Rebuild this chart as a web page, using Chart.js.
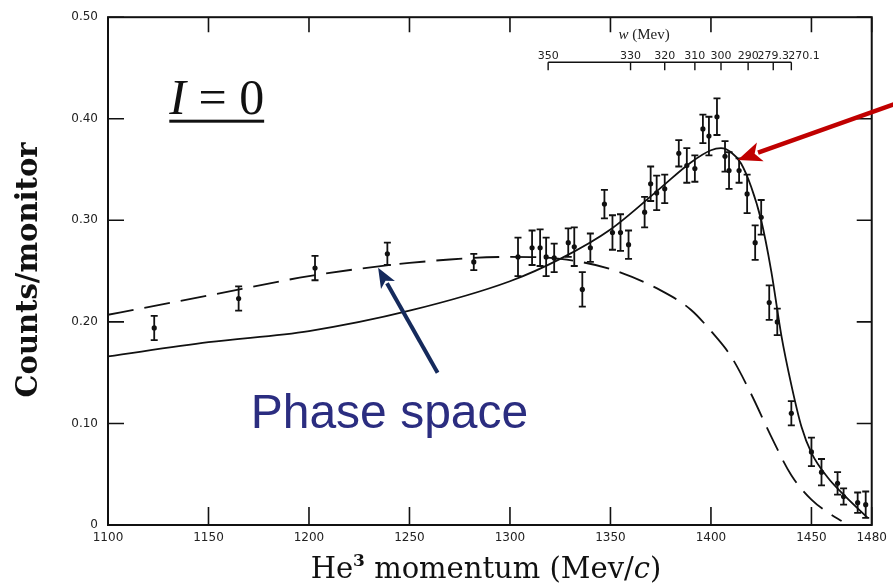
<!DOCTYPE html>
<html>
<head>
<meta charset="utf-8">
<script src="https://cdn.jsdelivr.net/npm/chart.js@4"></script>
<style>
  body { margin: 0; background: #fff; }
</style>
</head>
<body>
<canvas id="chart" width="893" height="587"></canvas>
<script>
// measured counts with error bars
const momentum = [1123, 1165, 1203, 1239, 1282, 1304, 1311, 1315, 1318, 1322, 1329, 1332, 1336, 1340,
  1347, 1351, 1355, 1359, 1367, 1370, 1373, 1377, 1384, 1388, 1392, 1396, 1399, 1403, 1407, 1409,
  1414, 1418, 1422, 1425, 1429, 1433, 1440, 1450, 1455, 1463, 1466, 1473, 1477];
const counts = [0.194, 0.223, 0.253, 0.267, 0.259, 0.264, 0.273, 0.273, 0.264, 0.263, 0.278, 0.274, 0.232, 0.273,
  0.316, 0.288, 0.288, 0.276, 0.308, 0.336, 0.327, 0.331, 0.366, 0.354, 0.351, 0.390, 0.383, 0.402, 0.363, 0.349,
  0.349, 0.326, 0.278, 0.303, 0.219, 0.200, 0.110, 0.072, 0.052, 0.041, 0.028, 0.022, 0.020];
const errors = [0.012, 0.012, 0.012, 0.011, 0.008, 0.019, 0.017, 0.018, 0.019, 0.014, 0.014, 0.019, 0.017, 0.014,
  0.014, 0.017, 0.018, 0.014, 0.015, 0.017, 0.017, 0.014, 0.013, 0.017, 0.013, 0.014, 0.019, 0.018, 0.015, 0.018,
  0.012, 0.019, 0.017, 0.017, 0.017, 0.013, 0.012, 0.014, 0.013, 0.011, 0.008, 0.010, 0.013];

// I = 0 fit (solid)
const fitMomentum = [1100, 1150, 1200, 1250, 1300, 1325, 1350, 1375, 1390, 1400, 1405, 1410, 1415, 1420,
  1425, 1430, 1435, 1440, 1445, 1450, 1458, 1467, 1478];
const fitCounts = [0.166, 0.180, 0.191, 0.211, 0.240, 0.262, 0.291, 0.332, 0.357, 0.369, 0.371, 0.367, 0.356, 0.333,
  0.300, 0.250, 0.187, 0.138, 0.097, 0.071, 0.047, 0.028, 0.007];

// phase space (dashed)
const phaseMomentum = [1100, 1150, 1200, 1250, 1300, 1325, 1350, 1375, 1390, 1400, 1410, 1420, 1430,
  1440, 1450, 1460, 1465];
const phaseCounts = [0.207, 0.226, 0.245, 0.258, 0.264, 0.262, 0.252, 0.231, 0.212, 0.191, 0.166, 0.129, 0.087,
  0.049, 0.025, 0.010, 0.004];

const xTicks = [1100, 1150, 1200, 1250, 1300, 1350, 1400, 1450, 1480];
const yTicks = [0, 0.1, 0.2, 0.3, 0.4, 0.5];
const yTickLabels = ['0', '0.10', '0.20', '0.30', '0.40', '0.50'];

// secondary w scale (Mev) along the top
const wMomentum = [1319, 1360, 1377, 1392, 1405, 1418.5, 1431, 1440];
const wLabels = ['350', '330', '320', '310', '300', '290', '279.3', '270.1'];

const toXY = (xs, ys) => xs.map((x, i) => ({ x: x, y: ys[i] }));

function arrow(ctx, x1, y1, x2, y2, color, width, headLen, headW) {
  const a = Math.atan2(y2 - y1, x2 - x1);
  const bx = x2 - Math.cos(a) * headLen * 0.9;
  const by = y2 - Math.sin(a) * headLen * 0.9;
  ctx.save();
  ctx.strokeStyle = color;
  ctx.fillStyle = color;
  ctx.lineWidth = width;
  ctx.beginPath();
  ctx.moveTo(x1, y1);
  ctx.lineTo(bx, by);
  ctx.stroke();
  ctx.beginPath();
  ctx.moveTo(x2, y2);
  ctx.lineTo(x2 - Math.cos(a) * headLen + Math.sin(a) * headW, y2 - Math.sin(a) * headLen - Math.cos(a) * headW);
  ctx.lineTo(x2 - Math.cos(a) * headLen * 0.75, y2 - Math.sin(a) * headLen * 0.75);
  ctx.lineTo(x2 - Math.cos(a) * headLen - Math.sin(a) * headW, y2 - Math.sin(a) * headLen + Math.cos(a) * headW);
  ctx.closePath();
  ctx.fill();
  ctx.restore();
}

const paperPlugin = {
  id: 'paper',
  afterDatasetsDraw(chart) {
    const ctx = chart.ctx;
    const x = chart.scales.x, y = chart.scales.y;
    ctx.save();
    ctx.strokeStyle = '#111';
    ctx.lineWidth = 1.8;
    momentum.forEach((m, i) => {
      const px = x.getPixelForValue(m);
      const top = y.getPixelForValue(counts[i] + errors[i]);
      const bot = y.getPixelForValue(counts[i] - errors[i]);
      ctx.beginPath();
      ctx.moveTo(px, top); ctx.lineTo(px, bot);
      ctx.moveTo(px - 3.5, top); ctx.lineTo(px + 3.5, top);
      ctx.moveTo(px - 3.5, bot); ctx.lineTo(px + 3.5, bot);
      ctx.stroke();
    });
    ctx.restore();
  },
  afterDraw(chart) {
    const ctx = chart.ctx;
    const a = chart.chartArea;
    const x = chart.scales.x, y = chart.scales.y;
    ctx.save();

    // frame and inward ticks
    ctx.strokeStyle = '#111';
    ctx.lineWidth = 2;
    ctx.strokeRect(a.left, a.top, a.right - a.left, a.bottom - a.top);
    ctx.lineWidth = 1.6;
    ctx.beginPath();
    xTicks.forEach(t => {
      const px = x.getPixelForValue(t);
      ctx.moveTo(px, a.bottom); ctx.lineTo(px, a.bottom - 18);
      ctx.moveTo(px, a.top); ctx.lineTo(px, a.top + 15);
    });
    yTicks.forEach(t => {
      const py = y.getPixelForValue(t);
      ctx.moveTo(a.left, py); ctx.lineTo(a.left + 16, py);
      ctx.moveTo(a.right, py); ctx.lineTo(a.right - 15, py);
    });
    ctx.stroke();

    // w scale
    const wy = a.top + 45;
    ctx.lineWidth = 1.4;
    ctx.beginPath();
    ctx.moveTo(x.getPixelForValue(wMomentum[0]), wy);
    ctx.lineTo(x.getPixelForValue(wMomentum[wMomentum.length - 1]), wy);
    wMomentum.forEach(m => {
      const px = x.getPixelForValue(m);
      ctx.moveTo(px, wy); ctx.lineTo(px, wy + 8);
    });
    ctx.stroke();
    ctx.fillStyle = '#222';
    ctx.font = '11px "DejaVu Sans"';
    ctx.textBaseline = 'alphabetic';
    wLabels.forEach((l, i) => {
      const px = x.getPixelForValue(wMomentum[i]);
      ctx.textAlign = i === wLabels.length - 1 ? 'left' : 'center';
      ctx.fillText(l, i === wLabels.length - 1 ? px - 3 : px, wy - 3);
    });
    ctx.textAlign = 'left';
    ctx.font = 'italic 15px "Liberation Serif"';
    const wx = x.getPixelForValue(1354);
    ctx.fillText('w', wx, a.top + 22);
    const ww = ctx.measureText('w ').width;
    ctx.font = '15px "Liberation Serif"';
    ctx.fillText('(Mev)', wx + ww, a.top + 22);

    // axis titles
    ctx.fillStyle = '#111';
    ctx.save();
    ctx.translate(29, 270);
    ctx.rotate(-Math.PI / 2);
    ctx.font = 'bold 29px "DejaVu Serif"';
    ctx.textAlign = 'center';
    ctx.textBaseline = 'middle';
    ctx.fillText('Counts/monitor', 0, 0);
    ctx.restore();

    const parts = [
      { t: 'He', f: '29px "DejaVu Serif"', dy: 0 },
      { t: '3', f: 'bold 17px "DejaVu Serif"', dy: -12 },
      { t: ' momentum (Mev/', f: '29px "DejaVu Serif"', dy: 0 },
      { t: 'c', f: 'italic 29px "DejaVu Serif"', dy: 0 },
      { t: ')', f: '29px "DejaVu Serif"', dy: 0 }
    ];
    let total = 0;
    parts.forEach(p => { ctx.font = p.f; p.w = ctx.measureText(p.t).width; total += p.w; });
    let tx = 486 - total / 2;
    ctx.textAlign = 'left';
    ctx.textBaseline = 'alphabetic';
    parts.forEach(p => { ctx.font = p.f; ctx.fillText(p.t, tx, 578 + p.dy); tx += p.w; });

    // I = 0 label
    const ix = x.getPixelForValue(1130.5), iy = y.getPixelForValue(0.405);
    ctx.font = 'italic 50px "Liberation Serif"';
    ctx.fillText('I', ix, iy);
    const iw = ctx.measureText('I').width;
    ctx.font = '50px "Liberation Serif"';
    ctx.fillText(' = 0', ix + iw, iy);
    const tw = iw + ctx.measureText(' = 0').width;
    ctx.fillRect(ix, iy + 6, tw, 3);

    // annotations
    ctx.fillStyle = '#2b2d80';
    ctx.font = '48px "Liberation Sans"';
    ctx.fillText('Phase space', x.getPixelForValue(1171), y.getPixelForValue(0.096));
    arrow(ctx, x.getPixelForValue(1264), y.getPixelForValue(0.150),
      x.getPixelForValue(1234.4), y.getPixelForValue(0.2534), '#152a5c', 4, 20, 8);
    arrow(ctx, x.getPixelForValue(1492), y.getPixelForValue(0.415),
      x.getPixelForValue(1413.3), y.getPixelForValue(0.3595), '#c00000', 4.5, 24, 10);

    ctx.restore();
  }
};

new Chart(document.getElementById('chart'), {
  type: 'line',
  data: {
    datasets: [
      {
        label: 'I = 0 fit',
        data: toXY(fitMomentum, fitCounts),
        borderColor: '#111',
        borderWidth: 1.8,
        pointRadius: 0,
        cubicInterpolationMode: 'monotone',
        fill: false
      },
      {
        label: 'Phase space',
        data: toXY(phaseMomentum, phaseCounts),
        borderColor: '#111',
        borderWidth: 1.8,
        borderDash: [26, 11],
        pointRadius: 0,
        cubicInterpolationMode: 'monotone',
        fill: false
      },
      {
        label: 'Counts',
        data: toXY(momentum, counts),
        showLine: false,
        pointRadius: 2.6,
        pointBackgroundColor: '#111',
        pointBorderWidth: 0
      }
    ]
  },
  options: {
    responsive: false,
    animation: false,
    layout: { padding: { left: 0, top: 16, right: 16, bottom: 0 } },
    plugins: { legend: { display: false }, tooltip: { enabled: false } },
    scales: {
      x: {
        type: 'linear',
        min: 1100,
        max: 1480,
        afterBuildTicks: s => { s.ticks = xTicks.map(v => ({ value: v })); },
        afterFit: s => { s.height = 62; },
        grid: { display: false, drawTicks: false },
        border: { display: false },
        ticks: { padding: 6, color: '#222', font: { family: 'DejaVu Sans', size: 12 }, maxRotation: 0, autoSkip: false,
          callback: v => String(v) }
      },
      y: {
        min: 0,
        max: 0.5,
        afterBuildTicks: s => { s.ticks = yTicks.map(v => ({ value: v })); },
        afterFit: s => { s.width = 108; },
        grid: { display: false, drawTicks: false },
        border: { display: false },
        ticks: { padding: 10, color: '#222', font: { family: 'DejaVu Sans', size: 12 },
          callback: v => yTickLabels[yTicks.findIndex(t => Math.abs(t - v) < 1e-9)] }
      }
    }
  },
  plugins: [paperPlugin]
});
</script>
</body>
</html>
